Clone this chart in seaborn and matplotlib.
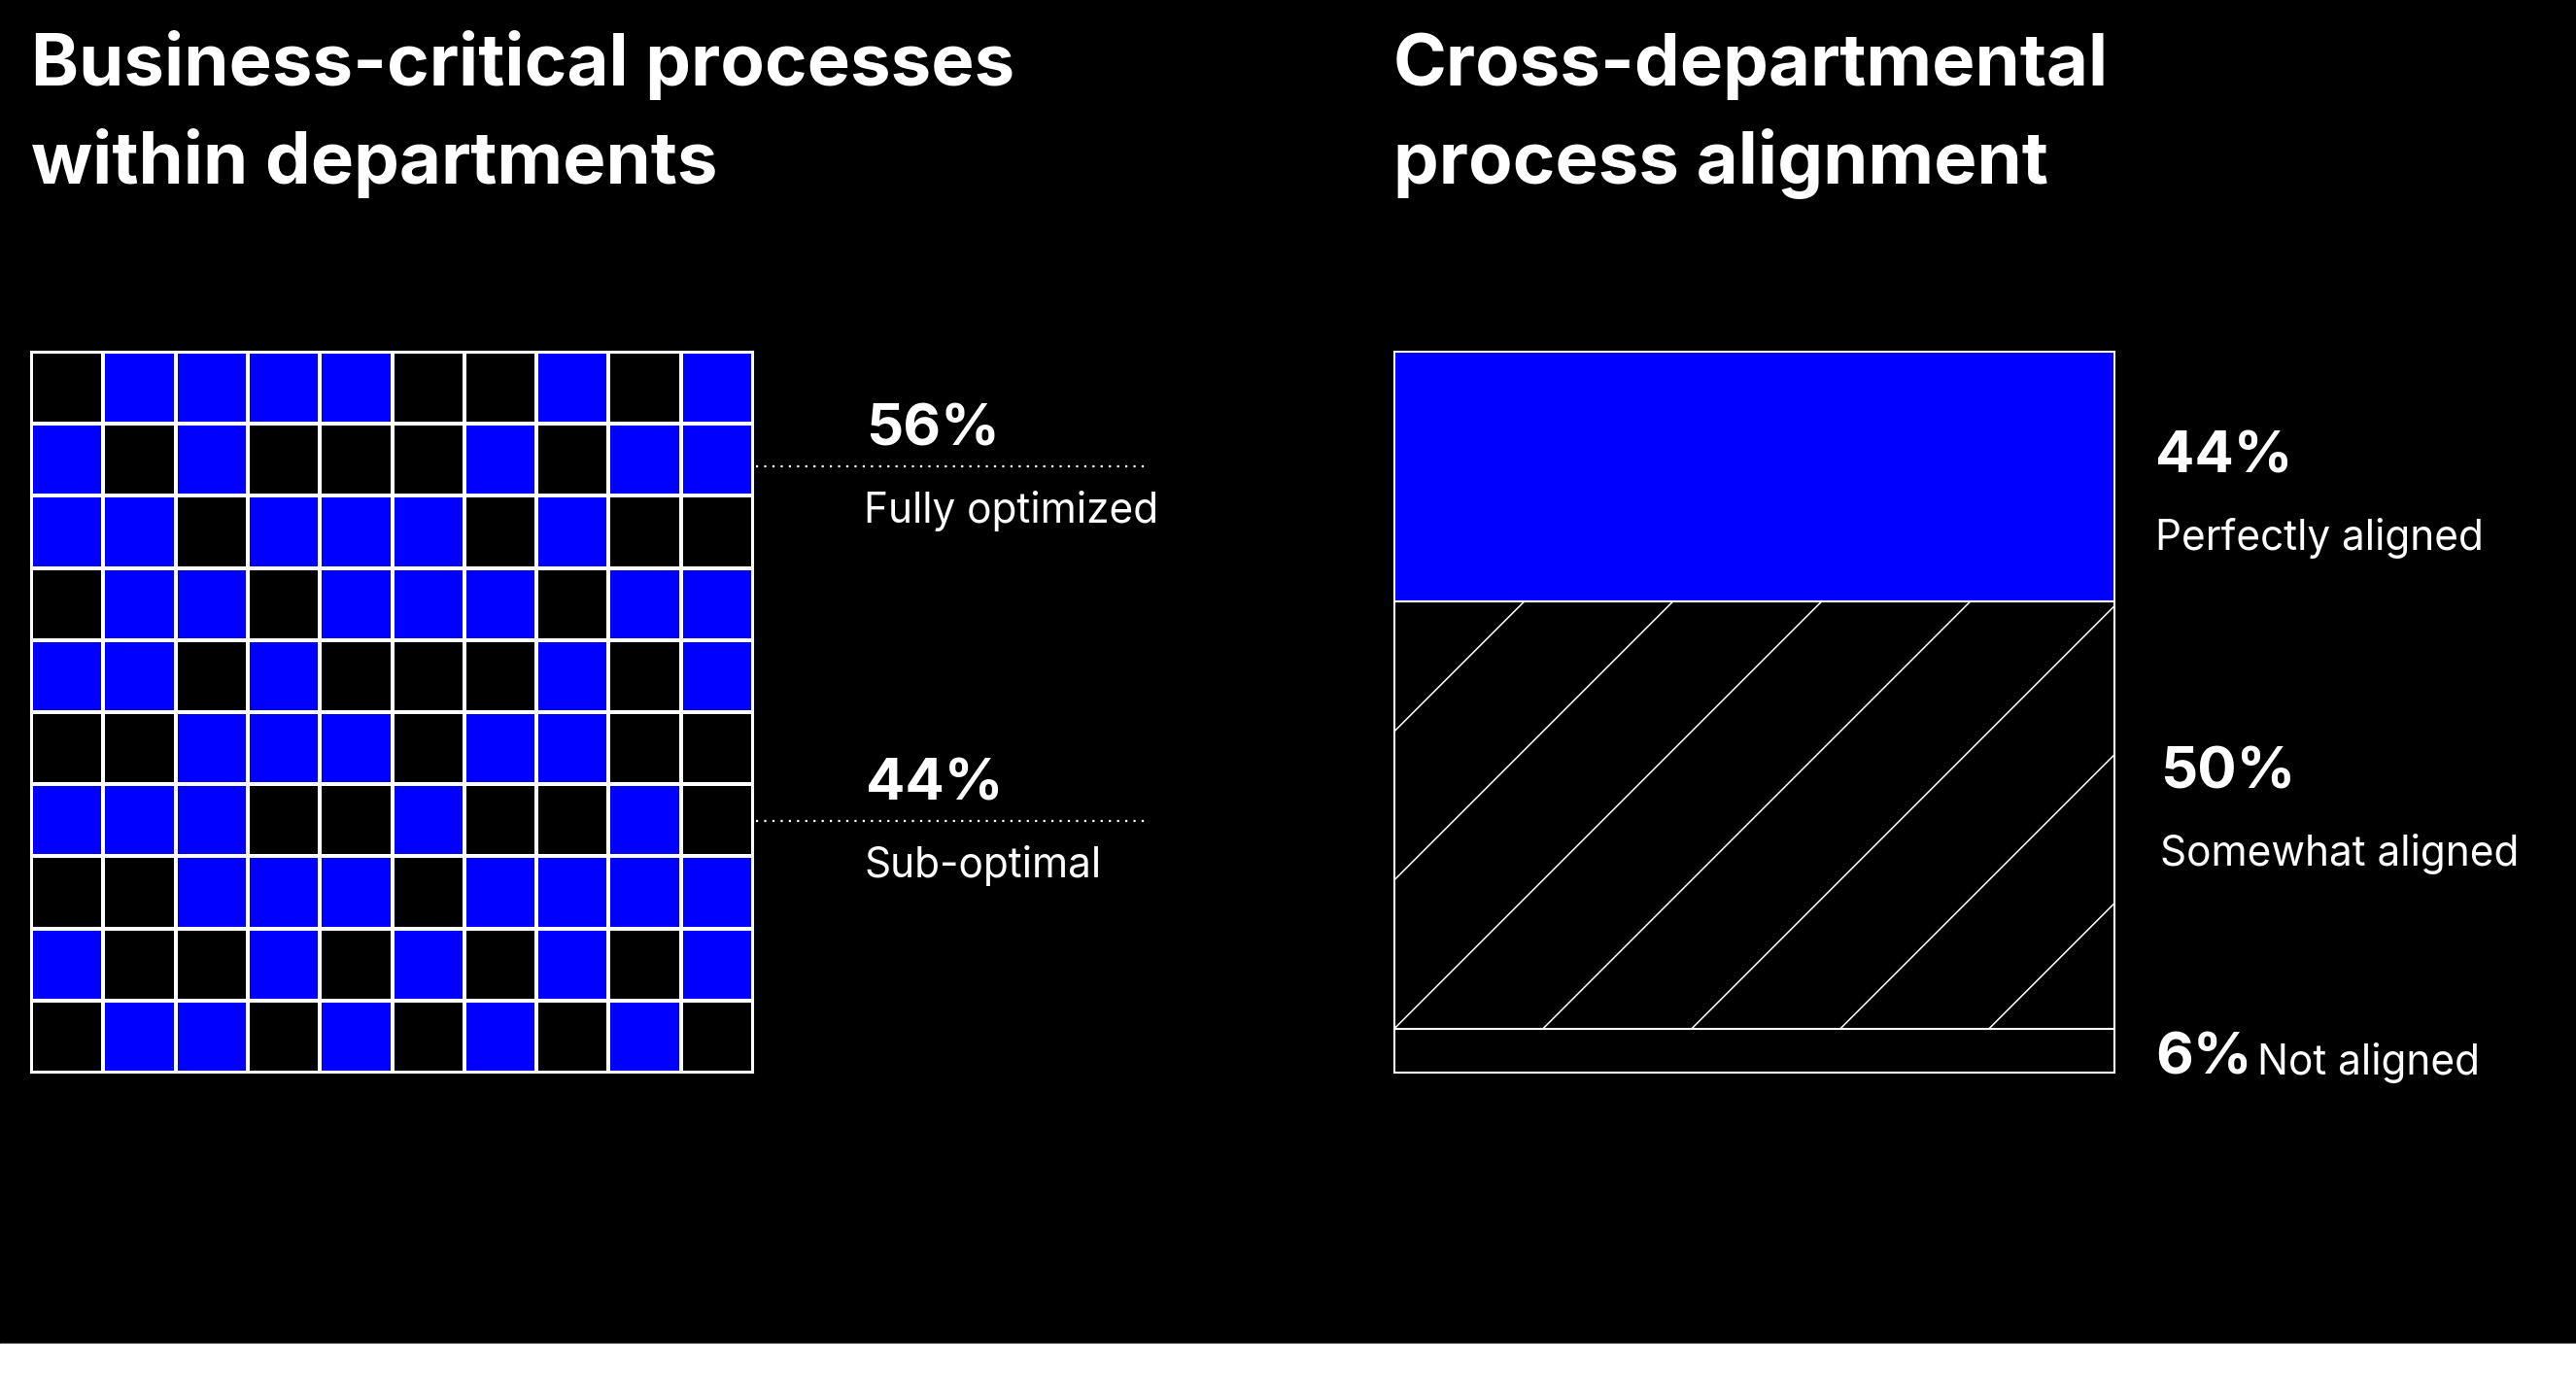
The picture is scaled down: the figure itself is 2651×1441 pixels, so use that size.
import numpy as np
import pandas as pd
import matplotlib.pyplot as plt
from matplotlib.colors import ListedColormap
from matplotlib.patches import Rectangle
import seaborn as sns

# ---------------- data ----------------
# 10x10 waffle: 1 = fully optimized (blue), 0 = sub-optimal
grid_rows = [
    [0, 1, 1, 1, 1, 0, 0, 1, 0, 1],
    [1, 0, 1, 0, 0, 0, 1, 0, 1, 1],
    [1, 1, 0, 1, 1, 1, 0, 1, 0, 0],
    [0, 1, 1, 0, 1, 1, 1, 0, 1, 1],
    [1, 1, 0, 1, 0, 0, 0, 1, 0, 1],
    [0, 0, 1, 1, 1, 0, 1, 1, 0, 0],
    [1, 1, 1, 0, 0, 1, 0, 0, 1, 0],
    [0, 0, 1, 1, 1, 0, 1, 1, 1, 1],
    [1, 0, 0, 1, 0, 1, 0, 1, 0, 1],
    [0, 1, 1, 0, 1, 0, 1, 0, 1, 0],
]
grid_labels = ["Fully optimized", "Sub-optimal"]
grid_pcts = [56, 44]

align_labels = ["Perfectly aligned", "Somewhat aligned", "Not aligned"]
align_pcts = [44, 50, 6]
# segment heights as drawn in the original artwork (it is not drawn to scale)
align_drawn = [34.6, 59.3, 6.1]

titles = ["Business-critical processes\nwithin departments",
          "Cross-departmental\nprocess alignment"]

BLUE = "#0000ff"

sns.set_theme(style="dark")
plt.rcParams["font.family"] = ["Inter", "DejaVu Sans"]

W, H = 2651, 1441
fig = plt.figure(figsize=(W / 100, H / 100), dpi=100, facecolor="black")


def txt(x, y, s, size, weight="bold", **kw):
    # x, y in pixels from the top-left corner, y is the baseline
    fig.text(x / W, 1 - y / H, s, color="white", fontsize=size,
             fontweight=weight, ha="left", va="baseline", **kw)


# white strip at the bottom
fig.add_artist(Rectangle((0, 0), 1, 58 / H, transform=fig.transFigure,
                         color="white", zorder=0))

# titles
for x0, t in zip([32, 1434], titles):
    l1, l2 = t.split("\n")
    txt(x0, 88, l1, 53.5)
    txt(x0, 189, l2, 53.5)

# ---------------- left: waffle grid ----------------
ax1 = fig.add_axes([32 / W, 1 - 1104 / H, 743 / W, 742 / H])
grid = pd.DataFrame(grid_rows)
sns.heatmap(grid, cmap=ListedColormap(["black", BLUE]), vmin=0, vmax=1,
            cbar=False, linewidths=1.5, linecolor="white",
            xticklabels=False, yticklabels=False, ax=ax1)
for sp in ax1.spines.values():
    sp.set_visible(True)
    sp.set_color("white")
    sp.set_linewidth(1.5)

# labels with dotted leaders
for pct, lab, y_pct, y_line, y_lab in zip(grid_pcts, grid_labels,
                                          [458, 823], [480, 845], [538, 903]):
    txt(891, y_pct, f"{pct}%", 43)
    txt(889, y_lab, lab, 30.5, weight="normal")
    fig.add_artist(plt.Line2D([778 / W, 1180 / W],
                              [1 - y_line / H, 1 - y_line / H],
                              transform=fig.transFigure, color="white",
                              lw=1.6, linestyle=(0, (1, 2.8))))

# ---------------- right: stacked bar ----------------
ax2 = fig.add_axes([1435 / W, 1 - 1104 / H, 741 / W, 742 / H])
ax2.set_facecolor("black")
heights = align_drawn[::-1]
bottoms = np.concatenate([[0], np.cumsum(heights)[:-1]])
colors = ["black", "black", BLUE]
bars = ax2.bar([0] * 3, heights, bottom=bottoms, width=1, color=colors,
               edgecolor="white", linewidth=1.5, clip_on=False)
ax2.set_xlim(-0.5, 0.5)
ax2.set_ylim(0, 100)
ax2.axis("off")

# wide diagonal hatch on the "somewhat aligned" segment
mid = bars[1]
y_b = bottoms[1]
step = 153 / 741
slope = 100 * 741 / 742
for k in range(-6, 7):
    x0 = -0.5 + k * step
    xs = np.array([x0, x0 + 1.2])
    ln, = ax2.plot(xs, y_b + (xs - x0) * slope, color="white", lw=1.1)
    ln.set_clip_path(mid)

# right labels
txt(2218, 487, f"{align_pcts[0]}%", 43)
txt(2218, 566, align_labels[0], 30.5, weight="normal")
txt(2223, 812, f"{align_pcts[1]}%", 43)
txt(2223, 891, align_labels[1], 30.5, weight="normal")
txt(2218, 1106, f"{align_pcts[2]}%", 43)
txt(2323, 1106, align_labels[2], 30.5, weight="normal")

fig.savefig("out.png", dpi=100, facecolor=fig.get_facecolor())
